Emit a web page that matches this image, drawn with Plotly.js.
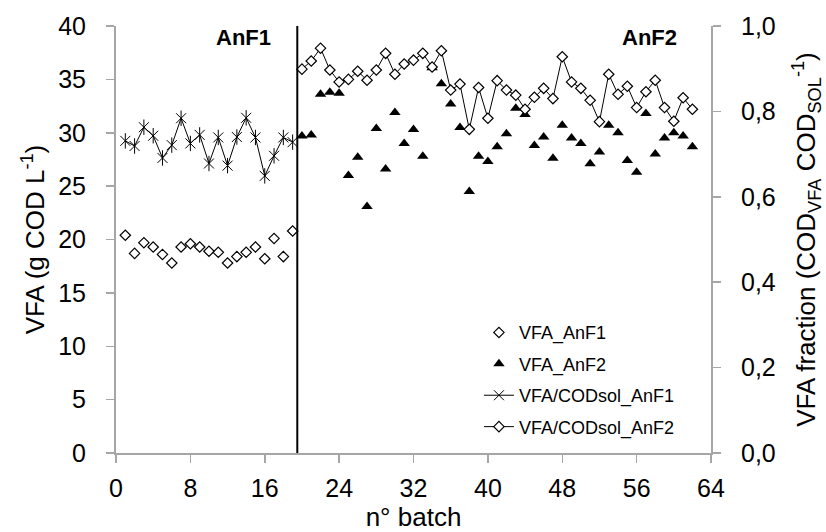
<!DOCTYPE html>
<html>
<head>
<meta charset="utf-8">
<script src="https://cdn.plot.ly/plotly-3.0.1.min.js"></script>
<style>html,body{margin:0;padding:0;background:#fff;}#chart{width:826px;height:532px;}</style>
</head>
<body>
<div id="chart"></div>
<script>
// ---- data ----
const batchAnF1 = [1,2,3,4,5,6,7,8,9,10,11,12,13,14,15,16,17,18,19];
const vfaAnF1 = [20.4,18.7,19.7,19.3,18.6,17.8,19.3,19.6,19.3,18.9,18.8,17.8,18.4,18.8,19.3,18.2,20.1,18.4,20.8];
const ratioAnF1 = [0.731,0.719,0.763,0.743,0.691,0.721,0.784,0.725,0.745,0.678,0.739,0.673,0.740,0.785,0.739,0.649,0.696,0.739,0.728];

const batchAnF2 = [20,21,22,23,24,25,26,27,28,29,30,31,32,33,34,35,36,37,38,39,40,41,42,43,44,45,46,47,48,49,50,51,52,53,54,55,56,57,58,59,60,61,62];
const vfaAnF2 = [29.7,29.8,33.6,33.8,33.7,26.0,27.7,23.1,30.4,26.6,31.9,29.0,30.3,27.8,36.1,34.6,32.7,30.5,24.5,27.8,27.3,28.7,29.9,32.3,31.7,28.8,29.6,27.6,30.7,29.5,29.0,27.1,28.2,30.7,30.0,27.4,26.3,31.8,28.0,29.5,30.0,29.7,28.7];
const ratioAnF2 = [0.899,0.918,0.948,0.897,0.869,0.875,0.894,0.873,0.897,0.936,0.887,0.911,0.920,0.936,0.904,0.942,0.850,0.864,0.758,0.856,0.784,0.872,0.850,0.838,0.805,0.833,0.854,0.830,0.928,0.869,0.854,0.826,0.776,0.887,0.840,0.859,0.809,0.846,0.873,0.809,0.777,0.832,0.805];

const phaseSplit = 19.5;
const xTicks = [0,8,16,24,32,40,48,56,64];

const FONT = 'Liberation Sans, Arial, sans-serif';
const AXC = '#a6a6a6';

const traces = [
  {x: batchAnF1, y: vfaAnF1, name: 'VFA_AnF1', type: 'scatter', mode: 'markers', legendgroup: 'g1',
   marker: {symbol: 'diamond', size: 8, color: '#ffffff', line: {color: '#000', width: 1.2}}},
  {x: batchAnF2, y: vfaAnF2, name: 'VFA_AnF2', type: 'scatter', mode: 'markers', legendgroup: 'g2',
   marker: {symbol: 'triangle-up', size: 10, color: '#000'}},
  {x: batchAnF1, y: ratioAnF1, name: 'VFA/CODsol_AnF1', type: 'scatter', mode: 'lines+markers', yaxis: 'y2', legendgroup: 'g3',
   line: {color: '#000', width: 1}, marker: {symbol: 'x-thin-open', size: 10, color: '#000', line: {color: '#000', width: 1}}},
  {x: batchAnF1, y: ratioAnF1, name: 'VFA/CODsol_AnF1', type: 'scatter', mode: 'markers', yaxis: 'y2', legendgroup: 'g3', showlegend: false, hoverinfo: 'skip',
   marker: {symbol: 'line-ns-open', size: 11, color: '#000', line: {color: '#000', width: 1}}},
  {x: batchAnF2, y: ratioAnF2, name: 'VFA/CODsol_AnF2', type: 'scatter', mode: 'lines+markers', yaxis: 'y2', legendgroup: 'g4',
   line: {color: '#000', width: 1}, marker: {symbol: 'diamond', size: 8, color: '#ffffff', line: {color: '#000', width: 1.2}}}
];

const layout = {
  width: 826, height: 532,
  margin: {l: 116, r: 115, t: 26, b: 79, pad: 0},
  paper_bgcolor: '#fff', plot_bgcolor: '#fff',
  separators: ', ',
  font: {family: FONT, color: '#000', size: 24},
  showlegend: true,
  legend: {x: 0.61, y: 0.325, xanchor: 'left', yanchor: 'top', bgcolor: 'rgba(0,0,0,0)',
           font: {family: FONT, size: 18, color: '#000'}, traceorder: 'grouped', tracegroupgap: 5},
  xaxis: {range: [0, 64], tickvals: xTicks, ticks: 'outside', ticklen: 8, tickcolor: AXC, tickwidth: 1.5,
          showline: true, linecolor: AXC, linewidth: 2, showgrid: false, zeroline: false,
          tickfont: {size: 25, family: FONT}, ticklabelstandoff: 4, automargin: false,
          title: {text: 'n° batch', font: {size: 26, family: FONT}, standoff: 6}},
  yaxis: {range: [0, 40], dtick: 5, ticks: 'outside', ticklen: 8, tickcolor: AXC, tickwidth: 1.5,
          showline: true, linecolor: AXC, linewidth: 2, showgrid: false, zeroline: false,
          tickfont: {size: 25, family: FONT}, ticklabelstandoff: 15, automargin: false,
          title: {text: 'VFA (g COD L<sup>-1</sup>)', font: {size: 26, family: FONT}, standoff: 6}},
  yaxis2: {range: [0, 1], dtick: 0.2, tickformat: '.1f', overlaying: 'y', side: 'right',
           ticks: 'outside', ticklen: 8, tickcolor: AXC, tickwidth: 1.5,
           showline: true, linecolor: AXC, linewidth: 2, showgrid: false, zeroline: false,
           tickfont: {size: 25, family: FONT}, ticklabelstandoff: 15, automargin: false,
           title: {text: 'VFA fraction (COD<sub>VFA</sub> COD<sub>SOL</sub><sup>-1</sup>)', font: {size: 26, family: FONT}, standoff: 22}},
  shapes: [{type: 'line', xref: 'x', yref: 'y', x0: phaseSplit, x1: phaseSplit, y0: 0, y1: 40, line: {color: '#000', width: 2}}],
  annotations: [
    {text: '<b>AnF1</b>', x: 13.7, y: 38.9, xref: 'x', yref: 'y', showarrow: false, font: {size: 22, family: FONT}},
    {text: '<b>AnF2</b>', x: 57.4, y: 38.9, xref: 'x', yref: 'y', showarrow: false, font: {size: 22, family: FONT}}
  ]
};

Plotly.newPlot('chart', traces, layout, {displayModeBar: false, staticPlot: true});
</script>
</body>
</html>
